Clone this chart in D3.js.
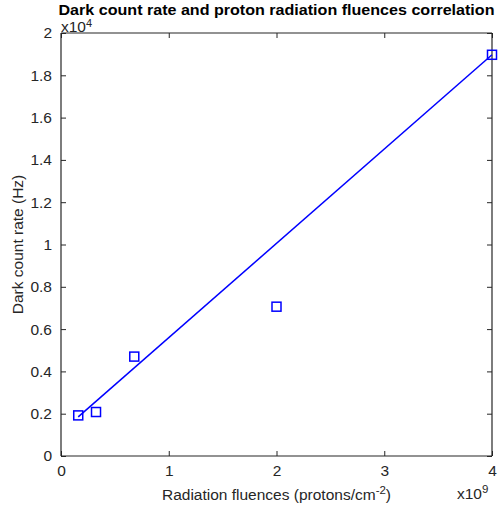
<!DOCTYPE html>
<html>
<head>
<meta charset="utf-8">
<script src="https://cdn.jsdelivr.net/npm/d3@7"></script>
<style>
  html, body { margin: 0; padding: 0; background: #fff; }
  svg { display: block; font-family: "Liberation Sans", Arial, Helvetica, sans-serif; }
</style>
</head>
<body>
<svg id="chart" width="499" height="510"></svg>
<script>
// Fluence in units of 1e9 protons/cm^2, dark count rate in units of 1e4 Hz
const fluence = [0.16, 0.325, 0.68, 2.0, 4.0];
const darkRate = [0.192, 0.208, 0.47, 0.706, 1.897];
// Fitted trend line endpoints
const fitX = [0.16, 4.0];
const fitY = [0.185, 1.897];
const xTicks = [0, 1, 2, 3, 4];
const yTicks = [0, 0.2, 0.4, 0.6, 0.8, 1, 1.2, 1.4, 1.6, 1.8, 2];

const svg = d3.select("#chart");
const m = { left: 61, right: 492, top: 33, bottom: 456 };
const axisColor = "#262626";
const blue = "#0000ff";
const fs = 15.5;

const x = d3.scaleLinear().domain([0, 4]).range([m.left, m.right]);
const y = d3.scaleLinear().domain([0, 2]).range([m.bottom, m.top]);

// Axes: boxed frame with inward ticks on all sides
const tickLen = 5;
const gx = svg.append("g").attr("transform", `translate(0,${m.bottom})`)
  .call(d3.axisBottom(x).tickValues(xTicks).tickSize(-tickLen).tickPadding(9).tickFormat(d3.format("d")));
const gxTop = svg.append("g").attr("transform", `translate(0,${m.top})`)
  .call(d3.axisTop(x).tickValues(xTicks).tickSize(-tickLen).tickFormat(""));
const gy = svg.append("g").attr("transform", `translate(${m.left},0)`)
  .call(d3.axisLeft(y).tickValues(yTicks).tickSize(-tickLen).tickPadding(9).tickFormat(d => String(d)));
const gyRight = svg.append("g").attr("transform", `translate(${m.right},0)`)
  .call(d3.axisRight(y).tickValues(yTicks).tickSize(-tickLen).tickFormat(""));

[gx, gxTop, gy, gyRight].forEach(g => {
  g.selectAll(".domain").attr("stroke", axisColor).attr("stroke-width", 1.2);
  g.selectAll(".tick line").attr("stroke", axisColor).attr("stroke-width", 1);
  g.selectAll(".tick text").attr("fill", axisColor).attr("font-size", fs)
    .attr("font-family", "Liberation Sans, Arial, sans-serif");
});
gx.selectAll(".domain").attr("d", `M${m.left},0H${m.right}`);
gxTop.selectAll(".domain").attr("d", `M${m.left},0H${m.right}`);
gy.selectAll(".domain").attr("d", `M0,${m.top}V${m.bottom}`);
gyRight.selectAll(".domain").attr("d", `M0,${m.top}V${m.bottom}`);

// Trend line
svg.append("path")
  .datum(fitX.map((v, i) => [v, fitY[i]]))
  .attr("fill", "none")
  .attr("stroke", blue)
  .attr("stroke-width", 1.5)
  .attr("d", d3.line().x(d => x(d[0])).y(d => y(d[1])));

// Measured points as open squares
const s = 9;
svg.append("g").selectAll("rect")
  .data(fluence.map((v, i) => [v, darkRate[i]]))
  .join("rect")
  .attr("x", d => x(d[0]) - s / 2)
  .attr("y", d => y(d[1]) - s / 2)
  .attr("width", s).attr("height", s)
  .attr("fill", "none")
  .attr("stroke", blue)
  .attr("stroke-width", 1.5);

// Exponent labels
const yExp = svg.append("text").attr("x", m.left).attr("y", 32)
  .attr("font-size", fs).attr("fill", axisColor);
yExp.append("tspan").text("x10");
yExp.append("tspan").attr("dy", -5).attr("font-size", 11).text("4");

const xExp = svg.append("text").attr("x", 457).attr("y", 499)
  .attr("font-size", fs).attr("fill", axisColor);
xExp.append("tspan").text("x10");
xExp.append("tspan").attr("dy", -6).attr("font-size", 11.5).text("9");

// Axis titles
const xl = svg.append("text").attr("x", (m.left + m.right) / 2).attr("y", 500)
  .attr("text-anchor", "middle").attr("font-size", fs).attr("fill", axisColor);
xl.append("tspan").text("Radiation fluences (protons/cm");
xl.append("tspan").attr("dy", -6).attr("font-size", 11.5).text("-2");
xl.append("tspan").attr("dy", 6).text(")");

svg.append("text")
  .attr("transform", `translate(23,${(m.top + m.bottom) / 2}) rotate(-90)`)
  .attr("text-anchor", "middle").attr("font-size", fs).attr("fill", axisColor)
  .text("Dark count rate (Hz)");

// Title
svg.append("text").attr("x", (m.left + m.right) / 2).attr("y", 14.5)
  .attr("text-anchor", "middle").attr("font-size", 15).attr("font-weight", "bold")
  .attr("fill", "#000")
  .attr("textLength", 436).attr("lengthAdjust", "spacingAndGlyphs")
  .text("Dark count rate and proton radiation fluences correlation");
</script>
</body>
</html>
